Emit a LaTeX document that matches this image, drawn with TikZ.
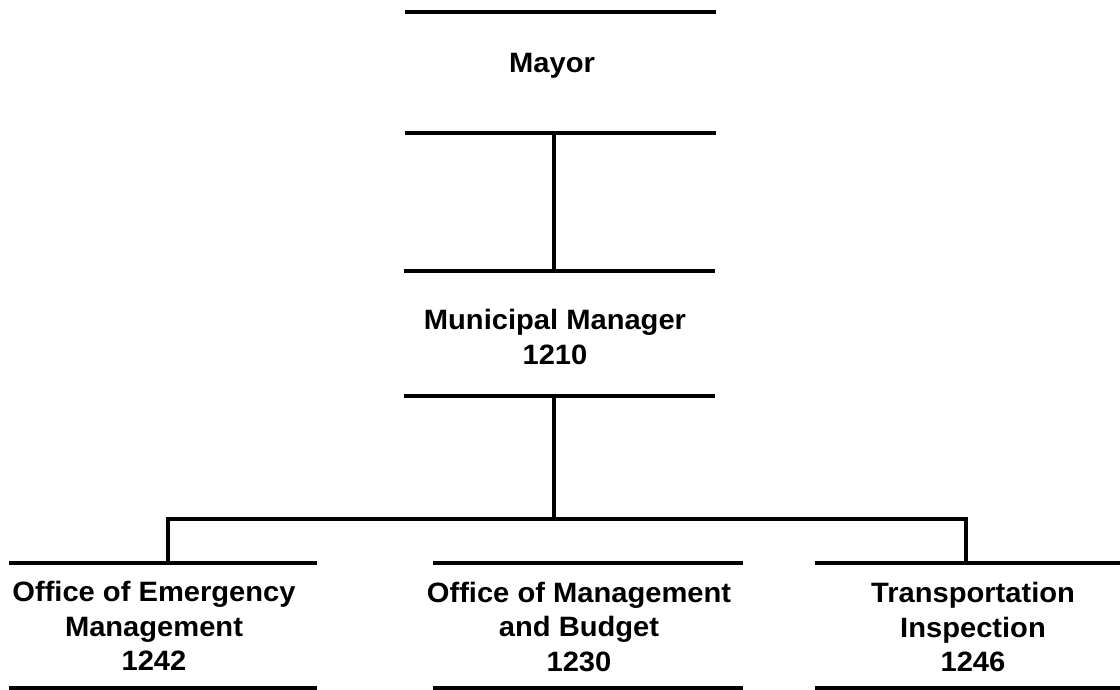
\documentclass[tikz,border=0pt]{standalone}
\usepackage{fontspec}
\setmainfont{Liberation Sans}[FakeStretch=1.04]
\begin{document}
\begin{tikzpicture}[x=1pt,y=-1pt,
  box/.style={rectangle,inner sep=0pt,minimum height=125pt},
  txt/.style={align=center,inner sep=0pt,font=\bfseries\fontsize{28}{34.5}\selectfont},
  bar/.style={line width=4pt,line cap=butt},
  conn/.style={line width=4pt,line cap=butt,line join=miter}]
\useasboundingbox (0,0) rectangle (1120,689);
% boxes
\node[box,minimum width=311pt,minimum height=121pt] (mayor) at (560.5,72.5) {};
\node[box,minimum width=311pt] (mm) at (559.5,333.5) {};
\node[box,minimum width=308pt] (oem) at (163,625.5) {};
\node[box,minimum width=310pt] (omb) at (588,625.5) {};
\node[box,minimum width=306pt] (ti) at (968,625.5) {};
% texts
\node[txt] (mayortxt) at (552,66) {Mayor};
\node[txt] (mmtxt) at (555,337) {Municipal Manager\\1210};
\node[txt] (oemtxt) at (154,626) {Office of Emergency\\Management\\1242};
\node[txt] (ombtxt) at (579,627) {Office of Management\\and Budget\\1230};
\node[txt] (titxt) at (973,627) {Transportation\\Inspection\\1246};
% bars
\foreach \n in {mayor,mm,oem,omb,ti}{
  \draw[bar] (\n.north west) -- (\n.north east);
  \draw[bar] (\n.south west) -- (\n.south east);
}
% connectors
\coordinate (bus) at (554,519);
\draw[conn] ([xshift=-6.5pt]mayor.south) -- ([xshift=-5.5pt]mm.north);
\draw[conn] ([xshift=-5.5pt]mm.south) -- (bus);
\draw[conn] ([xshift=5pt]oem.north) |- (bus) -| ([xshift=-2pt]ti.north);
\end{tikzpicture}
\end{document}
